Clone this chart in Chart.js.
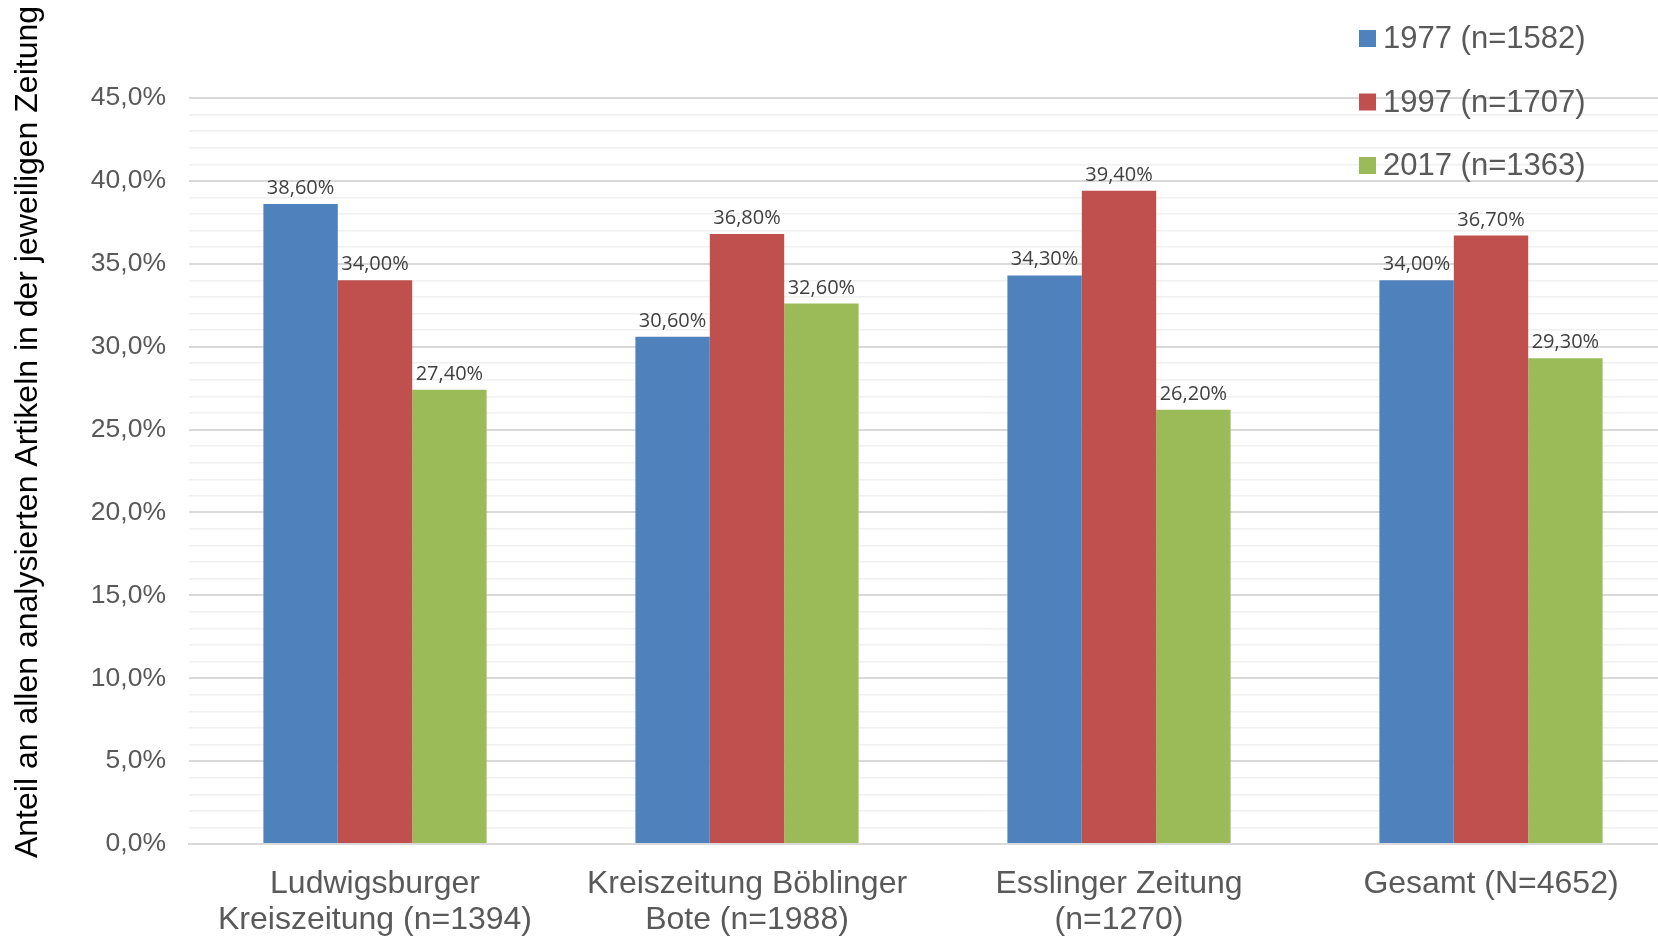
<!DOCTYPE html>
<html>
<head>
<meta charset="utf-8">
<script src="https://cdn.jsdelivr.net/npm/chart.js@4"></script>
<style>
  html, body { margin: 0; padding: 0; background: #fff; overflow: hidden; }
  #chart { display: block; }
</style>
</head>
<body>
<canvas id="chart" width="1690" height="938"></canvas>
<script>
// Daten
const zeitungen = [
  ['Ludwigsburger', 'Kreiszeitung (n=1394)'],
  ['Kreiszeitung Böblinger', 'Bote (n=1988)'],
  ['Esslinger Zeitung', '(n=1270)'],
  ['Gesamt (N=4652)']
];
const jahrgaenge = ['1977 (n=1582)', '1997 (n=1707)', '2017 (n=1363)'];
const werte1977 = [38.6, 30.6, 34.3, 34.0];
const werte1997 = [34.0, 36.8, 39.4, 36.7];
const werte2017 = [27.4, 32.6, 26.2, 29.3];
const farben = ['#4F81BD', '#C0504D', '#9BBB59'];
const achsenTitel = 'Anteil an allen analysierten Artikeln in der jeweiligen Zeitung';

const grau = '#595959';

function prozent(v, stellen) {
  return v.toFixed(stellen).replace('.', ',') + '%';
}

// Legende, Datenbeschriftungen und Achsentitel
const extras = {
  id: 'extras',
  afterDatasetsDraw(chart) {
    const ctx = chart.ctx;
    ctx.save();
    ctx.font = '20px "Open Sans"';
    ctx.fillStyle = '#404040';
    ctx.textAlign = 'center';
    ctx.textBaseline = 'alphabetic';
    chart.data.datasets.forEach((ds, i) => {
      chart.getDatasetMeta(i).data.forEach((bar, j) => {
        ctx.fillText(prozent(ds.data[j], 2), bar.x, bar.y - 10);
      });
    });
    ctx.restore();
  },
  afterDraw(chart) {
    const ctx = chart.ctx;
    ctx.save();
    // Legende
    ctx.font = '31px "Liberation Sans"';
    ctx.textAlign = 'left';
    ctx.textBaseline = 'middle';
    chart.data.datasets.forEach((ds, i) => {
      const y = 38.5 + i * 63.5;
      ctx.fillStyle = ds.backgroundColor;
      ctx.fillRect(1359, y - 8.5, 17, 17);
      ctx.fillStyle = grau;
      ctx.fillText(ds.label, 1383, y + 1);
    });
    // y-Achsentitel
    ctx.translate(28, 432);
    ctx.rotate(-Math.PI / 2);
    ctx.textAlign = 'center';
    ctx.font = '32px "Liberation Sans"';
    ctx.fillStyle = '#000';
    ctx.fillText(achsenTitel, 0, 0);
    ctx.restore();
  }
};

new Chart(document.getElementById('chart'), {
  type: 'bar',
  data: {
    labels: zeitungen,
    datasets: [
      { label: jahrgaenge[0], data: werte1977, backgroundColor: farben[0] },
      { label: jahrgaenge[1], data: werte1997, backgroundColor: farben[1] },
      { label: jahrgaenge[2], data: werte2017, backgroundColor: farben[2] }
    ]
  },
  options: {
    responsive: false,
    animation: false,
    layout: { padding: { left: 0, right: 13, top: 98, bottom: 0 } },
    datasets: { bar: { categoryPercentage: 0.6, barPercentage: 1.0 } },
    plugins: { legend: { display: false }, tooltip: { enabled: false } },
    scales: {
      x: {
        afterFit(scale) { scale.height = 94; },
        grid: { display: false, drawTicks: false },
        border: { display: true, color: '#d9d9d9', width: 2 },
        ticks: {
          color: grau,
          padding: 22,
          maxRotation: 0,
          autoSkip: false,
          font: { family: '"Liberation Sans"', size: 32, lineHeight: 1.13 }
        }
      },
      y: {
        min: 0,
        max: 45,
        afterFit(scale) { scale.width = 189; },
        border: { display: false },
        grid: {
          drawTicks: false,
          color: (c) => (c.tick.value % 5 === 0 ? '#d9d9d9' : '#f0f0f0'),
          lineWidth: (c) => (c.tick.value % 5 === 0 ? 2 : 1.5)
        },
        ticks: {
          stepSize: 1,
          autoSkip: false,
          color: grau,
          padding: 23,
          font: { family: '"Liberation Sans"', size: 26.5 },
          callback: (v) => (v % 5 === 0 ? prozent(v, 1) : '')
        }
      }
    }
  },
  plugins: [extras]
});
</script>
</body>
</html>
